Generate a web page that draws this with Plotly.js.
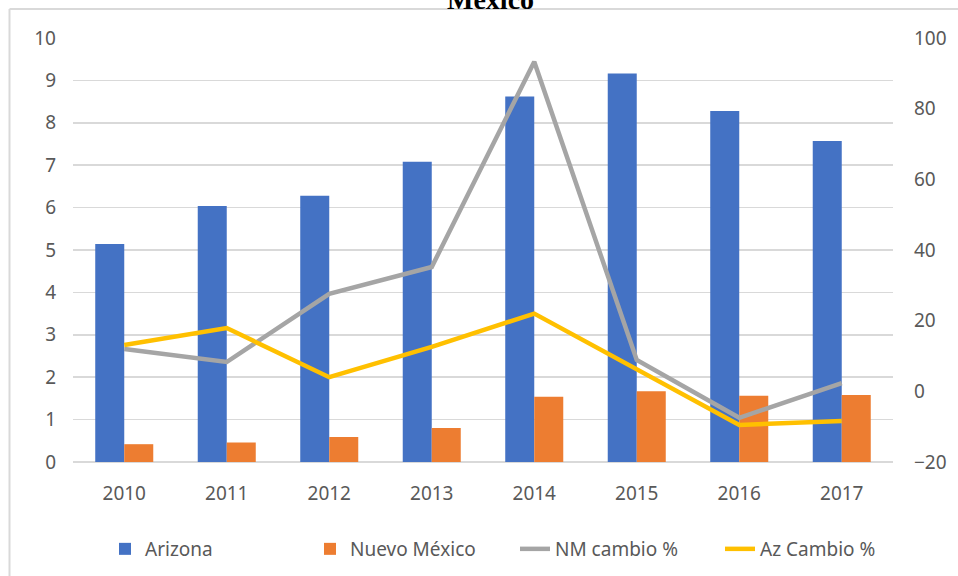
<!DOCTYPE html>
<html>
<head>
<meta charset="utf-8">
<script src="https://cdn.plot.ly/plotly-3.0.1.min.js"></script>
<style>html,body{margin:0;padding:0;background:#fff;}#chart{width:958px;height:576px;}</style>
</head>
<body>
<div id="chart"></div>
<script>
const years = ['2010','2011','2012','2013','2014','2015','2016','2017'];
const arizona = [5.14, 6.04, 6.28, 7.08, 8.62, 9.16, 8.28, 7.57];
const nuevoMexico = [0.42, 0.46, 0.59, 0.80, 1.54, 1.67, 1.56, 1.58];
const nmCambio = [12.0, 8.3, 27.6, 35.2, 93.3, 8.9, -7.5, 2.3];
const azCambio = [13.1, 17.9, 4.0, 12.6, 22.0, 6.3, -9.5, -8.4];
const names = ['Arizona', 'Nuevo México', 'NM cambio %', 'Az Cambio %'];
const titleText = 'México';

const font = {family: 'Noto Sans, Open Sans, sans-serif', size: 19, color: '#595959'};
const L = 73, R = 65, T = 38, B = 114, W = 958, H = 576;
const pw = W - L - R, ph = H - T - B;
const px = x => (x - L) / pw;
const py = y => (H - B - y) / ph;

const traces = [
  {type: 'bar', x: years, y: arizona, name: names[0], marker: {color: '#4472c4'}, yaxis: 'y'},
  {type: 'bar', x: years, y: nuevoMexico, name: names[1], marker: {color: '#ed7d31'}, yaxis: 'y'},
  {type: 'scatter', mode: 'lines', x: years, y: nmCambio, name: names[2], line: {color: '#a5a5a5', width: 4.5}, yaxis: 'y2'},
  {type: 'scatter', mode: 'lines', x: years, y: azCambio, name: names[3], line: {color: '#ffc000', width: 4.5}, yaxis: 'y2'}
];

const layout = {
  width: W, height: H,
  margin: {l: L, r: R, t: T, b: B, pad: 0},
  paper_bgcolor: '#fff', plot_bgcolor: '#fff',
  font: font,
  barmode: 'group', bargap: 0.434, bargroupgap: 0,
  showlegend: true,
  legend: {orientation: 'h', xref: 'container', x: 105 / W, xanchor: 'left', yref: 'container', y: (H - 549) / H, yanchor: 'middle', font: font, itemwidth: 30, entrywidth: 160, traceorder: 'normal'},
  xaxis: {type: 'category', showgrid: false, zeroline: false, showline: false, ticks: '', tickfont: font, ticklabelstandoff: 18},
  yaxis: {range: [0, 10], dtick: 1, tick0: 0, showgrid: true, gridcolor: '#d9d9d9', gridwidth: 1.5, zeroline: true, zerolinecolor: '#d9d9d9', zerolinewidth: 1.5, showline: false, ticks: '', tickfont: font, ticklabelstandoff: 16},
  yaxis2: {range: [-20, 100], dtick: 20, tick0: -20, overlaying: 'y', side: 'right', showgrid: false, zeroline: false, showline: false, ticks: '', tickfont: font, ticklabelstandoff: 20},
  annotations: [
    {text: '<b>' + titleText + '</b>', xref: 'paper', yref: 'paper', x: px(490), y: py(17), xanchor: 'center', yanchor: 'bottom', showarrow: false, font: {family: 'Liberation Serif, serif', size: 28, color: '#000'}}
  ],
  shapes: [
    {type: 'line', xref: 'paper', yref: 'paper', x0: px(9.5), x1: px(9.5), y0: py(9), y1: py(590), line: {color: '#d9d9d9', width: 2}},
    {type: 'line', xref: 'paper', yref: 'paper', x0: px(9.5), x1: px(970), y0: py(9), y1: py(9), line: {color: '#d9d9d9', width: 2}}
  ]
};

Plotly.newPlot('chart', traces, layout, {displayModeBar: false, staticPlot: true});
</script>
</body>
</html>
